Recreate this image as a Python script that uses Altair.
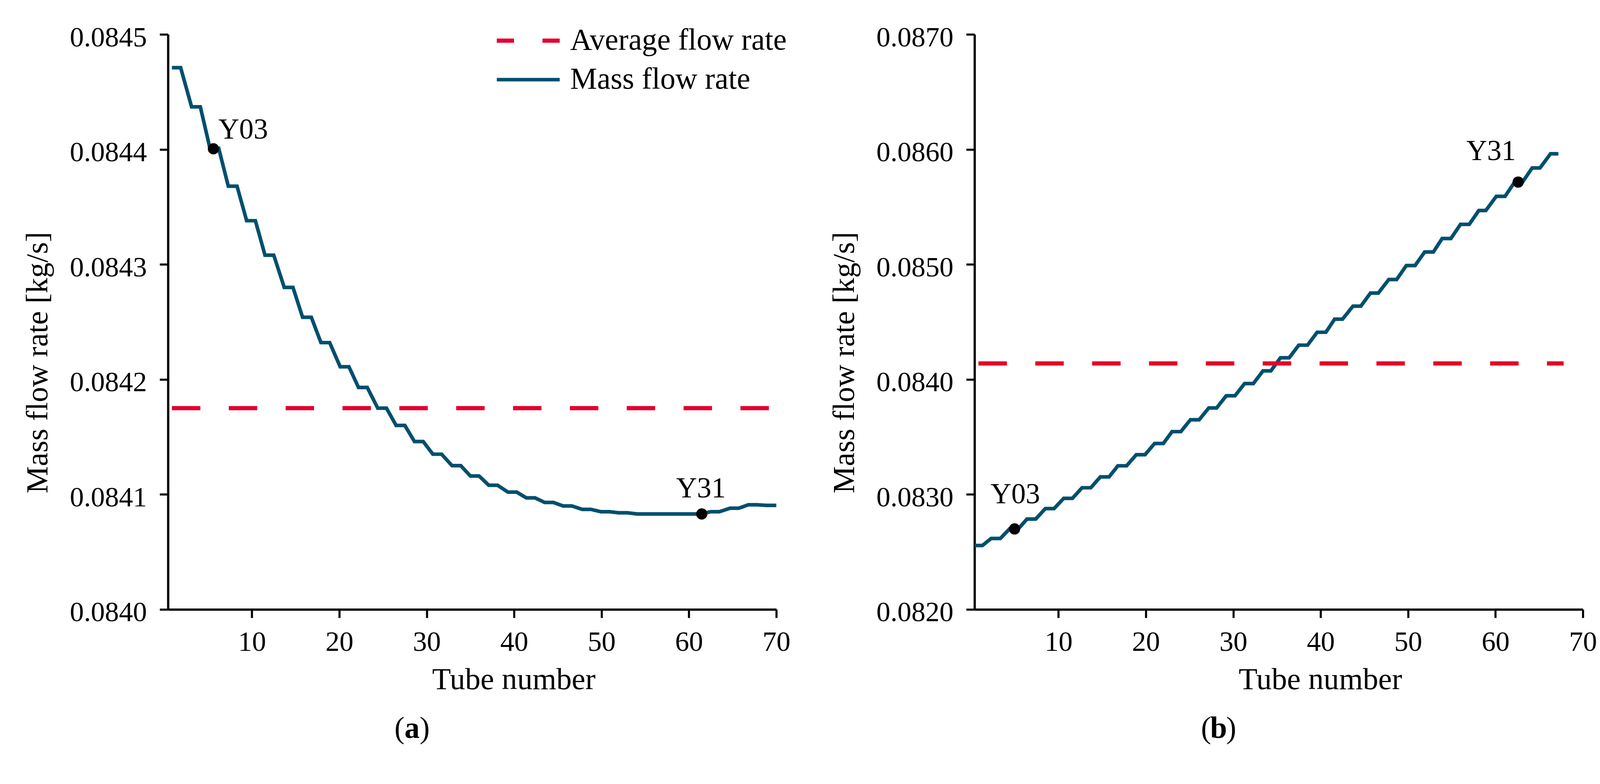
import altair as alt
import pandas as pd

SERIES = ["Average flow rate", "Mass flow rate"]
COLORS = ["#e4002b", "#004f6e"]
FONT = "Liberation Serif"

# ---------- panel (a) ----------
a_flat_start = [0.85, 3.1, 5.2, 7.3, 9.4, 11.5, 13.7, 15.8, 17.9, 20.1, 22.2, 24.4, 26.5,
                28.6, 30.7, 32.9, 35.0, 37.1, 39.3, 41.4, 43.5, 45.6, 47.8, 49.9, 52.0,
                54.1, 56.2, 58.3, 60.4, 62.5, 64.7, 66.8, 68.8]
a_flat_end = [1.85, 4.1, 6.2, 8.3, 10.4, 12.5, 14.7, 16.8, 18.9, 21.1, 23.2, 25.4, 27.5,
              29.6, 31.7, 33.9, 36.0, 38.1, 40.3, 42.4, 44.5, 46.6, 48.8, 50.9, 53.0,
              55.1, 57.2, 59.3, 61.4, 63.5, 65.7, 67.8, 70.0]
a_flat_value = [0.084471, 0.084437, 0.084401, 0.084368, 0.084338, 0.084308, 0.084280,
                0.084254, 0.084232, 0.084211, 0.084193, 0.084175, 0.084160, 0.084146,
                0.084135, 0.084125, 0.084116, 0.084108, 0.084102, 0.084097, 0.084093,
                0.084090, 0.084087, 0.084085, 0.084084, 0.084083, 0.084083, 0.084083,
                0.084083, 0.084085, 0.084088, 0.084091, 0.0840905]
a_avg_x = [0.85, 70.0]
a_avg_value = 0.084175
a_mark_label = ["Y03", "Y31"]
a_mark_x = [5.6, 61.47]
a_mark_y = [0.0844005, 0.084083]
a_y_domain = [0.0840, 0.0845]
a_y_ticks = [0.0840, 0.0841, 0.0842, 0.0843, 0.0844, 0.0845]
a_caption = ["(", "a", ")"]

# ---------- panel (b) ----------
b_flat_start = [0.4, 2.3, 4.4, 6.4, 8.5, 10.6, 12.7, 14.8, 16.8, 18.9, 21.0, 23.0, 25.1,
                27.2, 29.2, 31.3, 33.4, 35.4, 37.5, 39.6, 41.6, 43.7, 45.7, 47.8, 49.8,
                51.9, 53.9, 56.0, 58.1, 60.1, 62.2, 64.2, 66.3]
b_flat_end = [1.3, 3.35, 5.4, 7.4, 9.5, 11.6, 13.7, 15.8, 17.8, 19.9, 22.0, 24.0, 26.1,
              28.1, 30.2, 32.3, 34.3, 36.4, 38.5, 40.6, 42.5, 44.6, 46.6, 48.7, 50.8,
              52.9, 54.9, 57.0, 58.9, 61.1, 63.1, 65.1, 67.2]
b_flat_value = [0.082556, 0.082617, 0.082700, 0.082786, 0.082877, 0.082966, 0.083058,
                0.083153, 0.083249, 0.083345, 0.083443, 0.083546, 0.083649, 0.083752,
                0.083858, 0.083964, 0.084074, 0.084188, 0.084298, 0.084410, 0.084524,
                0.084637, 0.084751, 0.084869, 0.084990, 0.085108, 0.085225, 0.085348,
                0.085469, 0.085592, 0.085716, 0.085839, 0.085962]
b_avg_x = [0.85, 67.8]
b_avg_value = 0.084139
b_mark_label = ["Y03", "Y31"]
b_mark_x = [4.98, 62.6]
b_mark_y = [0.082700, 0.085716]
b_y_domain = [0.0820, 0.0870]
b_y_ticks = [0.0820, 0.0830, 0.0840, 0.0850, 0.0860, 0.0870]
b_caption = ["(", "b", ")"]

x_ticks = [10, 20, 30, 40, 50, 60, 70]
x_domain = [0.4, 70]

W, H = 1605, 1518


def panel(fs, fe, fv, avg_x, avg_v, mlab, mx, my, ydom, yticks, label_styles, caption):
    rows = []
    for i, (s, e, v) in enumerate(zip(fs, fe, fv)):
        rows.append({"x": s, "y": v, "series": SERIES[1], "order": 2 * i})
        rows.append({"x": e, "y": v, "series": SERIES[1], "order": 2 * i + 1})
    for j, xx in enumerate(avg_x):
        rows.append({"x": xx, "y": avg_v, "series": SERIES[0], "order": j})
    df = pd.DataFrame(rows)

    xs = alt.Scale(domain=x_domain, nice=False, zero=False)
    ys = alt.Scale(domain=ydom, nice=False, zero=False)
    xaxis = alt.Axis(values=x_ticks, title="Tube number", titleX=912, titleY=210,
                     titleBaseline="alphabetic", titleAlign="center",
                     labelPadding=29, labelFlush=False, labelOverlap=False, labelLimit=0)
    yaxis = alt.Axis(values=yticks, format=".4f", title="Mass flow rate [kg/s]",
                     titleX=-319, titleY=866, titleAngle=270, titleAlign="center",
                     titleBaseline="alphabetic", labelPadding=34, labelOffset=9,
                     labelFlush=False, labelOverlap=False, labelLimit=0)
    leg = alt.Legend(orient="none", legendX=862, legendY=-35, title=None,
                     symbolType="stroke", symbolSize=27556, labelFont=FONT,
                     labelFontSize=80, labelOffset=22, rowPadding=0, clipHeight=103,
                     padding=0, symbolDashOffset=29.5, labelColor="black", labelLimit=0)

    line = alt.Chart(df).mark_line(strokeCap="butt", strokeJoin="miter").encode(
        x=alt.X("x:Q", scale=xs, axis=xaxis),
        y=alt.Y("y:Q", scale=ys, axis=yaxis),
        color=alt.Color("series:N", scale=alt.Scale(domain=SERIES, range=COLORS), legend=leg),
        strokeDash=alt.StrokeDash("series:N",
                                  scale=alt.Scale(domain=SERIES, range=[[75, 75], [1, 0]]),
                                  legend=leg),
        strokeWidth=alt.StrokeWidth("series:N",
                                    scale=alt.Scale(domain=SERIES, range=[11, 9.5]),
                                    legend=leg),
        order="order:Q",
    )
    mdf = pd.DataFrame({"label": mlab, "x": mx, "y": my})
    dots = alt.Chart(mdf).mark_circle(size=880, color="black", opacity=1).encode(
        x=alt.X("x:Q", scale=xs), y=alt.Y("y:Q", scale=ys))
    layers = [line, dots]
    for lab, (align, dx, dy) in zip(mlab, label_styles):
        t = alt.Chart(mdf).transform_filter(alt.datum.label == lab).mark_text(
            align=align, baseline="alphabetic", dx=dx, dy=dy, font=FONT,
            fontSize=76, color="black").encode(
            x=alt.X("x:Q", scale=xs), y=alt.Y("y:Q", scale=ys), text="label:N")
        layers.append(t)
    # sub-figure caption: "(" + bold letter + ")"
    cap_styles = [("right", 624, "normal"), ("center", 644, "bold"), ("left", 664, "normal")]
    for piece, (align, px, weight) in zip(caption, cap_styles):
        c = alt.Chart(pd.DataFrame({"t": [piece]})).mark_text(
            align=align, baseline="alphabetic", font=FONT, fontSize=80,
            fontWeight=weight, color="black").encode(
            text="t:N", x=alt.value(px), y=alt.value(1857))
        layers.append(c)
    return alt.layer(*layers).properties(width=W, height=H)


left = panel(a_flat_start, a_flat_end, a_flat_value, a_avg_x, a_avg_value,
             a_mark_label, a_mark_x, a_mark_y, a_y_domain, a_y_ticks,
             [("left", 13, -27), ("center", -2, -44)], a_caption)
right = panel(b_flat_start, b_flat_end, b_flat_value, b_avg_x, b_avg_value,
              b_mark_label, b_mark_x, b_mark_y, b_y_domain, b_y_ticks,
              [("center", 2, -68), ("right", -6, -58)], b_caption)

chart = alt.hconcat(left, right, spacing=523, bounds="flush").properties(
    padding={"left": 51, "top": 18, "right": 0, "bottom": 0}
).configure_view(stroke=None).configure_axis(
    domainColor="black", domainWidth=6, tickColor="black", tickWidth=5.5, tickSize=22,
    labelFont=FONT, labelFontSize=74, labelColor="black", titleFont=FONT,
    titleFontSize=81, titleFontWeight="normal", titleColor="black", grid=False
)

chart.save("out.html", embed_options={"renderer": "svg", "actions": False})
